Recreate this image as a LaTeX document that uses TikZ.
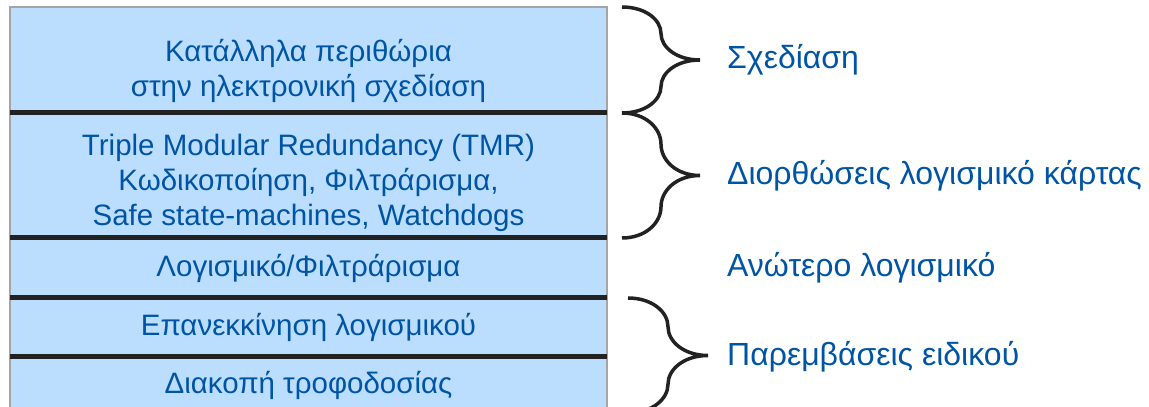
\documentclass[tikz,border=0pt]{standalone}
\usepackage{fontspec}
\setmainfont{Liberation Sans}
\usetikzlibrary{positioning,calc}
\definecolor{layerblue}{RGB}{187,222,254}
\definecolor{textblue}{RGB}{0,84,164}
\definecolor{bordergray}{RGB}{165,165,165}
\definecolor{braceblack}{RGB}{34,34,34}

% curly brace from top point #1 to bottom point #2, #3 = width
\newcommand{\sidebrace}[3]{%
  \draw[brace line] let \p1=(#1), \p2=(#2), \n1={\y1-\y2}, \n2={#3} in
    (\p1) .. controls +(0.3*\n2,0) and +(0,0.13*\n1) .. ($(\p1)+(0.5*\n2,-0.25*\n1)$)
          .. controls +(0,-0.13*\n1) and +(-0.3*\n2,0) .. ($(\p1)+(\n2,-0.5*\n1)$)
          .. controls +(-0.3*\n2,0) and +(0,0.13*\n1) .. ($(\p1)+(0.5*\n2,-0.75*\n1)$)
          .. controls +(0,-0.13*\n1) and +(0.3*\n2,0) .. (\p2);}

\begin{document}
\begin{tikzpicture}[
        x=1pt, y=1pt,
        layer/.style={rectangle, draw=bordergray, line width=1.5pt, fill=layerblue, text=textblue,
            minimum width=597, inner sep=0pt, outer sep=0pt, align=center,
            font=\fontsize{29.5}{35}\selectfont},
        separator/.style={draw=braceblack, line width=5pt},
        brace line/.style={draw=braceblack, line width=3.5pt},
        sidelabel/.style={anchor=west, inner sep=0pt, text=textblue, font=\fontsize{32}{38}\selectfont}
    ]
        \useasboundingbox (0,0) rectangle (1149,407);

        % Layers
        \node[layer, minimum height=106] (design) at (308.5,347) {\rule{0pt}{45pt}Κατάλληλα περιθώρια\\στην ηλεκτρονική σχεδίαση};
        \node[layer, minimum height=125, below=0pt of design] (board) {\rule{0pt}{37pt}Triple Modular Redundancy (TMR)\\Κωδικοποίηση, Φιλτράρισμα,\\Safe state-machines, Watchdogs};
        \node[layer, minimum height=60, below=0pt of board] (upper) {Λογισμικό/Φιλτράρισμα};
        \node[layer, minimum height=59, below=0pt of upper] (restart) {Επανεκκίνηση λογισμικού};
        \node[layer, minimum height=56, below=0pt of restart] (power) {Διακοπή τροφοδοσίας};

        % Separators
        \draw[separator] (design.south west) -- (design.south east);
        \draw[separator] (board.south west) -- (board.south east);
        \draw[separator] (upper.south west) -- (upper.south east);
        \draw[separator] (restart.south west) -- (restart.south east);

        % Braces
        \coordinate (bx) at (622,0);
        \coordinate (bx3) at (628,0);
        \sidebrace{bx |- design.north}{bx |- design.south}{78}
        \sidebrace{bx |- design.south}{bx |- board.south}{78}
        \sidebrace{bx3 |- restart.north}{bx3 |- power.south}{80}

        % Labels
        \coordinate (lx) at (727,0);
        \node[sidelabel] (l1) at (lx |- design) {Σχεδίαση};
        \node[sidelabel] (l2) at (lx |- board) {Διορθώσεις λογισμικό κάρτας};
        \node[sidelabel] (l3) at (lx |- upper) {Ανώτερο λογισμικό};
        \node[sidelabel] (l4) at (lx |- restart.south) {Παρεμβάσεις ειδικού};

    \end{tikzpicture}
\end{document}
